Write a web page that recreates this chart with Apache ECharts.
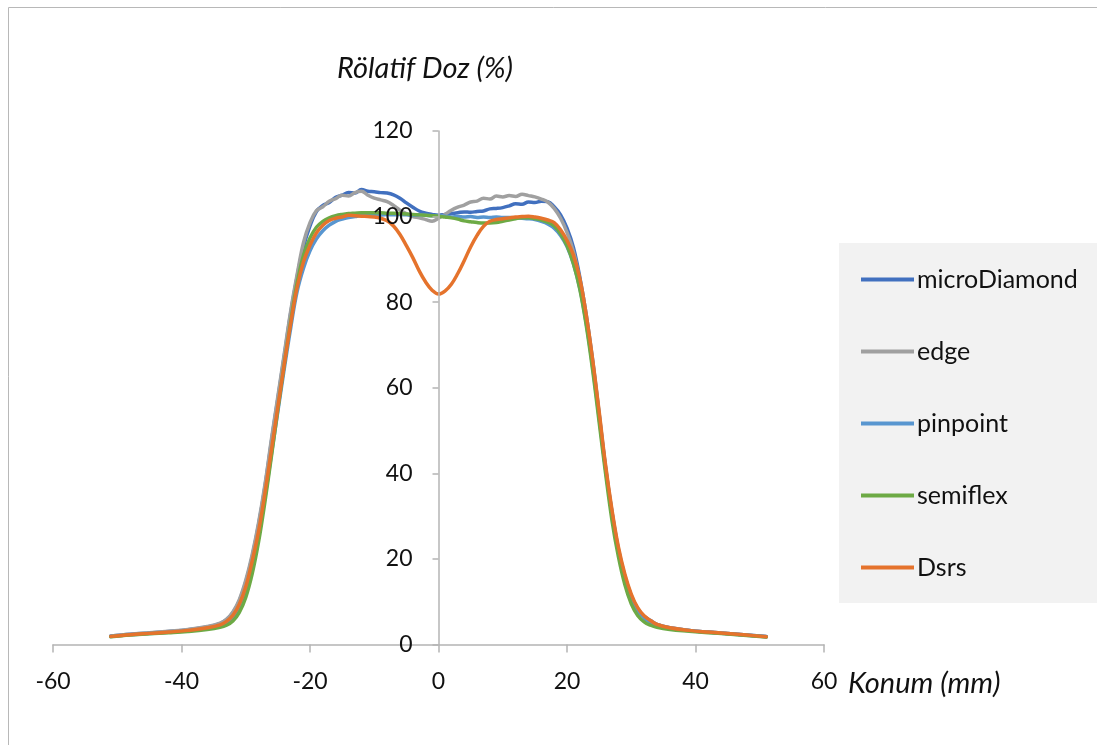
<!DOCTYPE html>
<html>
<head>
<meta charset="utf-8">
<script src="https://cdn.jsdelivr.net/npm/echarts@6/dist/echarts.min.js"></script>
<style>
html,body{margin:0;padding:0;background:#fff;}
#chart{width:1097px;height:745px;}
</style>
</head>
<body>
<div id="chart"></div>
<script>
// Position (mm)
const positions = [-51,-48,-45,-42,-39,-36,
  -34,-33,-32,-31,-30,-29,-28,-27,-26,-25,-24,-23,-22,-21,
  -20,-19,-18,-17,-16,-15,-14,-13,-12,-11,-10,-9,-8,-7,-6,-5,-4,-3,-2,-1,
  0,1,2,3,4,5,6,7,8,9,10,11,12,13,14,15,16,17,18,19,20,
  21,22,23,24,25,26,27,28,29,30,31,32,33,34,
  36,39,42,45,48,51];

const seriesNames = ['microDiamond','edge','pinpoint','semiflex','Dsrs'];

const microDiamond = [2.0,2.4,2.7,3.05,3.45,4.1,
  4.9,5.8,7.4,10.2,14.6,20.5,28.0,37.0,47.5,57.5,67.5,77.5,86.0,93.0,
  97.8,101.2,102.6,103.3,104.5,105.0,105.6,105.5,106.3,105.9,105.8,105.6,105.5,105.1,104.3,103.2,102.2,101.3,100.8,100.5,
  100.3,100.5,100.7,100.9,101.1,101.0,101.2,101.3,101.8,101.9,102.1,102.5,103.0,102.9,103.4,103.3,103.6,103.5,102.3,100.4,97.3,
  92.8,85.8,77.0,66.3,54.0,41.5,31.0,22.3,16.0,11.4,8.4,6.6,5.6,4.7,
  3.9,3.3,2.9,2.55,2.2,1.85];

const edge = [2.0,2.4,2.75,3.1,3.5,4.2,
  5.0,5.9,7.6,10.5,15.0,21.0,28.5,37.5,48.0,58.0,68.0,78.0,86.5,94.0,
  98.6,101.4,102.3,103.6,104.2,105.0,104.8,105.6,105.9,105.0,104.3,103.9,103.5,102.6,101.5,100.7,100.0,99.7,99.3,98.9,
  99.6,100.5,101.5,102.2,102.7,103.4,103.6,104.3,104.1,104.8,104.6,104.9,104.7,105.2,104.9,104.6,104.1,103.4,101.9,99.6,96.3,
  91.8,85.0,76.3,65.8,53.6,41.2,30.8,22.0,15.8,11.2,8.3,6.5,5.5,4.7,
  3.9,3.3,2.9,2.55,2.2,1.85];

const pinpoint = [1.85,2.25,2.55,2.85,3.2,3.75,
  4.4,5.1,6.4,8.8,12.8,18.5,25.5,34.5,44.5,54.5,64.5,74.0,82.5,88.0,
  92.0,94.8,96.7,98.0,98.9,99.4,99.8,100.0,100.3,100.2,100.4,100.3,100.5,100.4,100.5,100.4,100.3,100.4,100.3,100.2,
  100.2,100.1,99.9,100.0,99.9,100.0,99.8,99.9,99.8,99.9,99.8,99.8,99.7,99.6,99.5,99.3,98.9,98.3,97.3,95.6,93.0,
  89.0,83.2,75.0,64.8,53.0,41.0,30.3,21.8,15.6,11.0,8.0,6.2,5.2,4.5,
  3.8,3.25,2.85,2.5,2.15,1.8];

const semiflex = [1.8,2.2,2.5,2.75,3.05,3.5,
  4.0,4.5,5.5,7.5,11.0,16.5,24.0,33.5,44.0,55.0,65.5,75.5,84.5,91.0,
  95.0,97.5,98.9,99.7,100.2,100.5,100.7,100.8,100.9,100.9,100.9,100.9,100.8,100.8,100.7,100.6,100.5,100.4,100.3,100.2,
  100.1,99.9,99.7,99.4,99.0,98.8,98.6,98.5,98.5,98.6,98.9,99.2,99.5,99.7,99.7,99.5,99.2,98.7,97.8,96.0,93.2,
  89.0,83.0,74.5,64.0,52.0,40.0,29.0,20.5,14.0,9.5,6.8,5.3,4.5,4.0,
  3.5,3.1,2.75,2.45,2.1,1.75];

const Dsrs = [1.9,2.3,2.6,2.9,3.3,3.9,
  4.6,5.4,6.8,9.4,13.5,19.5,26.5,35.5,45.5,55.5,65.5,75.0,83.5,89.5,
  93.3,96.2,98.0,99.1,99.6,99.9,100.3,100.2,100.1,100.0,99.9,99.6,99.0,97.8,95.8,93.2,90.4,87.3,84.7,82.8,
  81.9,82.6,84.2,86.7,89.7,92.9,95.6,97.7,98.9,99.3,99.5,99.7,99.9,100.0,100.1,99.9,99.6,99.2,98.6,96.9,94.4,
  91.0,85.5,77.0,66.5,54.5,42.0,31.5,22.8,16.5,11.8,8.6,6.7,5.6,4.7,
  3.9,3.3,2.9,2.55,2.2,1.8];

const xTicks = [-60,-40,-20,0,20,40,60];
const yTicks = [0,20,40,60,80,100,120];

const colors = ['#4170BF','#A0A0A0','#5896D0','#6DAA45','#E5732C'];
const values = [microDiamond, edge, pinpoint, semiflex, Dsrs];

const FONT = 'Lato, "Open Sans", "Liberation Sans", sans-serif';

const GRID_LEFT = 53, GRID_RIGHT = 273;
const plotWidth = 1097 - GRID_LEFT - GRID_RIGHT;
// shift the y axis so that it crosses the x axis at x = 0
const yAxisOffset = -plotWidth * (0 - xTicks[0]) / (xTicks[xTicks.length - 1] - xTicks[0]);

const chart = echarts.init(document.getElementById('chart'), null, {renderer:'canvas'});

const series = seriesNames.map((name, k) => ({
  name: name,
  type: 'line',
  data: positions.map((x, i) => [x, values[k][i]]),
  symbol: 'none',
  showSymbol: false,
  smooth: 0.4,
  lineStyle: {width: 3.5, color: colors[k], cap: 'round', join: 'round'},
  itemStyle: {color: colors[k]},
  z: 2 + k * 0.01,
  animation: false
}));

chart.setOption({
  animation: false,
  backgroundColor: '#ffffff',
  textStyle: {fontFamily: FONT},
  grid: {left: GRID_LEFT, right: GRID_RIGHT, top: 131, bottom: 100.5, containLabel: false, outerBoundsMode: 'none'},
  xAxis: {
    type: 'value',
    min: xTicks[0], max: xTicks[xTicks.length - 1], interval: 20,
    axisLine: {onZero: false, lineStyle: {color: '#b4b4b4', width: 1.5}},
    axisTick: {show: true, inside: false, length: 8, lineStyle: {color: '#b4b4b4', width: 1.5}},
    axisLabel: {color: '#111', fontSize: 23, fontFamily: FONT, margin: 26},
    splitLine: {show: false}
  },
  yAxis: {
    type: 'value',
    position: 'left',
    offset: yAxisOffset,
    min: yTicks[0], max: yTicks[yTicks.length - 1], interval: 20,
    z: 3,
    axisLine: {show: true, onZero: false, lineStyle: {color: '#b4b4b4', width: 1.5}},
    axisTick: {show: true, inside: false, length: 6, lineStyle: {color: '#b4b4b4', width: 1.5}},
    axisLabel: {color: '#111', fontSize: 23, fontFamily: FONT, margin: 26},
    splitLine: {show: false}
  },
  legend: {
    data: seriesNames,
    orient: 'vertical',
    left: 861, top: 267,
    padding: 0,
    icon: 'rect',
    itemWidth: 53, itemHeight: 4, itemGap: 47,
    textStyle: {fontSize: 25, lineHeight: 24, fontFamily: FONT, color: '#111', padding: [0,0,0,-2]},
    selectedMode: false
  },
  graphic: [
    {type: 'rect', z: -10, silent: true, shape: {x: 8.5, y: 7.5, width: 1200, height: 800}, style: {fill: 'none', stroke: '#b8b8b8', lineWidth: 1}},
    {type: 'rect', z: -5, silent: true, shape: {x: 839, y: 243, width: 270, height: 360}, style: {fill: '#f2f2f2'}},
    {type: 'text', left: 337, top: 54, silent: true, style: {text: 'Rölatif Doz (%)', font: 'italic 29px ' + FONT, fill: '#111'}},
    {type: 'text', left: 848, top: 669, silent: true, style: {text: 'Konum (mm)', font: 'italic 29px ' + FONT, fill: '#111'}}
  ],
  series: series
});
</script>
</body>
</html>
